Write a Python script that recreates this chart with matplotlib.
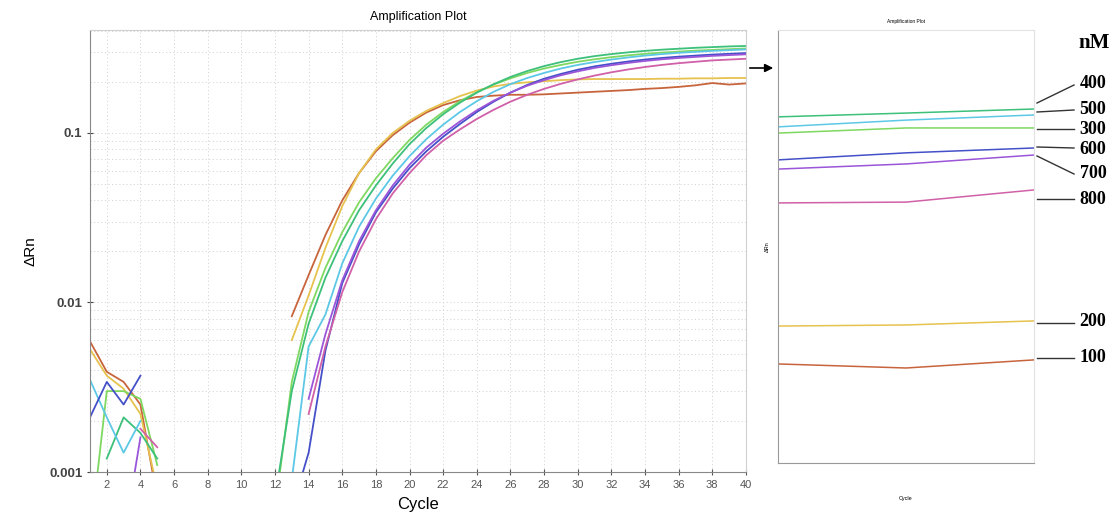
import numpy as np
import matplotlib
matplotlib.use("Agg")
import matplotlib.pyplot as plt
from matplotlib.ticker import FixedLocator, LogLocator, NullFormatter, FixedFormatter

plt.rcParams["font.family"] = ["Liberation Sans", "DejaVu Sans"]

nan = np.nan
cycles = np.arange(1, 41)

# dRn per cycle for each primer concentration (nM); nan = not shown
conc_100 = [0.0059, 0.0039, 0.0034, 0.0025, 0.0007, nan, nan, nan, nan, nan,
            nan, nan, 0.0083, 0.0145, 0.025, 0.040, 0.058, 0.078, 0.097, 0.115,
            0.132, 0.146, 0.156, 0.163, 0.166, 0.168, 0.168, 0.169, 0.171, 0.173,
            0.175, 0.177, 0.179, 0.182, 0.184, 0.187, 0.191, 0.197, 0.193, 0.196]
conc_200 = [0.0053, 0.0037, 0.0031, 0.0022, 0.0008, nan, nan, nan, nan, nan,
            nan, nan, 0.0060, 0.011, 0.021, 0.037, 0.058, 0.080, 0.100, 0.118,
            0.135, 0.150, 0.165, 0.178, 0.188, 0.195, 0.199, 0.202, 0.205, 0.207,
            0.208, 0.208, 0.208, 0.208, 0.209, 0.209, 0.210, 0.210, 0.211, 0.211]
conc_300 = [0.0004, 0.0030, 0.0030, 0.0027, 0.0011, nan, nan, nan, nan, nan,
            nan, 0.0006, 0.0034, 0.0088, 0.016, 0.026, 0.039, 0.054, 0.071, 0.091,
            0.112, 0.133, 0.154, 0.174, 0.193, 0.210, 0.226, 0.240, 0.252, 0.263,
            0.272, 0.280, 0.287, 0.293, 0.298, 0.302, 0.306, 0.309, 0.312, 0.315]
conc_400 = [nan, 0.0012, 0.0021, 0.0017, 0.0012, nan, nan, nan, nan, nan,
            nan, 0.0007, 0.0030, 0.0075, 0.014, 0.023, 0.035, 0.049, 0.066, 0.086,
            0.107, 0.129, 0.151, 0.173, 0.194, 0.214, 0.232, 0.248, 0.262, 0.274,
            0.284, 0.292, 0.299, 0.305, 0.310, 0.314, 0.318, 0.321, 0.324, 0.326]
conc_500 = [0.0035, 0.0021, 0.0013, 0.0020, nan, nan, nan, nan, nan, nan,
            nan, nan, 0.0009, 0.0055, 0.0085, 0.017, 0.028, 0.041, 0.056, 0.073,
            0.092, 0.112, 0.133, 0.154, 0.175, 0.194, 0.211, 0.226, 0.240, 0.252,
            0.262, 0.271, 0.279, 0.286, 0.292, 0.297, 0.301, 0.305, 0.308, 0.311]
conc_600 = [0.0021, 0.0034, 0.0025, 0.0037, nan, nan, nan, nan, nan, nan,
            nan, nan, 0.0006, 0.0013, 0.0052, 0.013, 0.022, 0.034, 0.047, 0.062,
            0.078, 0.095, 0.113, 0.133, 0.153, 0.173, 0.192, 0.209, 0.223, 0.236,
            0.247, 0.256, 0.264, 0.271, 0.277, 0.282, 0.286, 0.290, 0.293, 0.296]
conc_700 = [nan, nan, 0.0004, 0.0016, nan, nan, nan, nan, nan, nan,
            nan, nan, nan, 0.0027, 0.0065, 0.0135, 0.023, 0.035, 0.049, 0.065,
            0.082, 0.099, 0.117, 0.136, 0.155, 0.173, 0.190, 0.205, 0.219, 0.231,
            0.242, 0.251, 0.259, 0.266, 0.272, 0.277, 0.281, 0.285, 0.288, 0.291]
conc_800 = [nan, nan, nan, 0.0018, 0.0014, nan, nan, nan, nan, nan,
            nan, nan, nan, 0.0022, 0.0055, 0.0115, 0.020, 0.031, 0.044, 0.058,
            0.074, 0.090, 0.105, 0.121, 0.137, 0.153, 0.168, 0.182, 0.195, 0.207,
            0.218, 0.228, 0.237, 0.245, 0.252, 0.258, 0.263, 0.268, 0.271, 0.274]

# zoomed view of the last three cycles
zoom_cycles = [38, 39, 40]
zoom_100 = [0.2066, 0.2051, 0.2081]
zoom_200 = [0.2206, 0.2210, 0.2225]
zoom_300 = [0.2919, 0.2938, 0.2938]
zoom_400 = [0.2979, 0.2993, 0.3008]
zoom_500 = [0.2942, 0.2967, 0.2986]
zoom_600 = [0.2820, 0.2846, 0.2864]
zoom_700 = [0.2786, 0.2805, 0.2838]
zoom_800 = [0.2661, 0.2664, 0.2709]

labels = ["100", "200", "300", "400", "500", "600", "700", "800"]
colors = ["#c8643c", "#e6c24e", "#7fd860", "#3cc07a", "#5cc8e6", "#4450c8", "#9b55d8", "#d060a8"]
main_series = [conc_100, conc_200, conc_300, conc_400, conc_500, conc_600, conc_700, conc_800]
zoom_series = [zoom_100, zoom_200, zoom_300, zoom_400, zoom_500, zoom_600, zoom_700, zoom_800]

fig = plt.figure(figsize=(11.19, 5.18), dpi=100)
ax = fig.add_axes([0.0804, 0.0888, 0.5862, 0.8533])

for vals, col in zip(main_series, colors):
    ax.plot(cycles, vals, color=col, linewidth=1.3)

ax.set_yscale("log")
ax.set_ylim(0.001, 0.405)
ax.set_xlim(1, 40)
ax.xaxis.set_major_locator(FixedLocator(np.arange(2, 41, 2)))
ax.yaxis.set_major_locator(FixedLocator([0.001, 0.01, 0.1]))
ax.yaxis.set_major_formatter(FixedFormatter(["0.001", "0.01", "0.1"]))
ax.yaxis.set_minor_locator(LogLocator(base=10, subs=np.arange(2, 10)))
ax.yaxis.set_minor_formatter(NullFormatter())
ax.grid(True, which="both", color="#d6d6d6", linestyle=(0, (1.2, 2.5)), linewidth=0.7)
ax.tick_params(axis="x", labelsize=8, colors="#555555", direction="inout", length=4)
ax.tick_params(axis="y", which="major", labelsize=9.5, colors="#444444", direction="inout", length=4)
ax.tick_params(axis="y", which="minor", length=0)
for lab in ax.get_yticklabels():
    lab.set_fontweight("bold")
for side in ["top", "right"]:
    ax.spines[side].set_color("#d0d0d0")
for side in ["left", "bottom"]:
    ax.spines[side].set_color("#888888")
ax.set_title("Amplification Plot", fontsize=9, pad=7)
ax.set_xlabel("Cycle", fontsize=12, labelpad=5)
ax.set_ylabel("\u0394Rn", fontsize=11, labelpad=8)

# zoomed panel
ax2 = fig.add_axes([0.6953, 0.1062, 0.2288, 0.8359])
for vals, col in zip(zoom_series, colors):
    ax2.plot(zoom_cycles, vals, color=col, linewidth=1.1)
ax2.set_xlim(38, 40)
ax2.set_ylim(0.17, 0.33)
ax2.set_xticks([])
ax2.set_yticks([])
for side in ["top", "right"]:
    ax2.spines[side].set_color("#e2e2e2")
for side in ["left", "bottom"]:
    ax2.spines[side].set_color("#999999")
ax2.set_title("Amplification Plot", fontsize=3.5, pad=5)
ax2.set_xlabel("Cycle", fontsize=4, labelpad=24)
ax2.set_ylabel("\u0394Rn", fontsize=4, labelpad=6)

# arrow from main plot to zoomed panel
fig.add_artist(matplotlib.patches.FancyArrowPatch(
    (747 / 1119, 1 - 68 / 518), (776 / 1119, 1 - 68 / 518),
    transform=fig.transFigure, arrowstyle="-|>", mutation_scale=12, color="black", lw=1.2))

# concentration labels with leader lines
serif = ["Liberation Serif", "DejaVu Serif"]
fig.text(1094 / 1119, 1 - 43 / 518, "nM", fontsize=15, fontweight="bold", family=serif,
         ha="center", va="center")
tag_text = ["400", "500", "300", "600", "700", "800", "200", "100"]
tag_y = [84, 109, 129, 149, 174, 200, 322, 358]
lead_y0 = [103, 112, 129, 147, 156, 199, 323, 358]
lead_y1 = [85, 110, 129, 148, 174, 199, 323, 358]
for txt, ty, y0, y1 in zip(tag_text, tag_y, lead_y0, lead_y1):
    fig.text(1093 / 1119, 1 - ty / 518, txt, fontsize=13, fontweight="bold", family=serif,
             ha="center", va="center")
    fig.add_artist(matplotlib.lines.Line2D(
        [1037 / 1119, 1074 / 1119], [1 - y0 / 518, 1 - y1 / 518],
        transform=fig.transFigure, color="#333333", linewidth=1.0))

fig.savefig("out.png", dpi=100)
